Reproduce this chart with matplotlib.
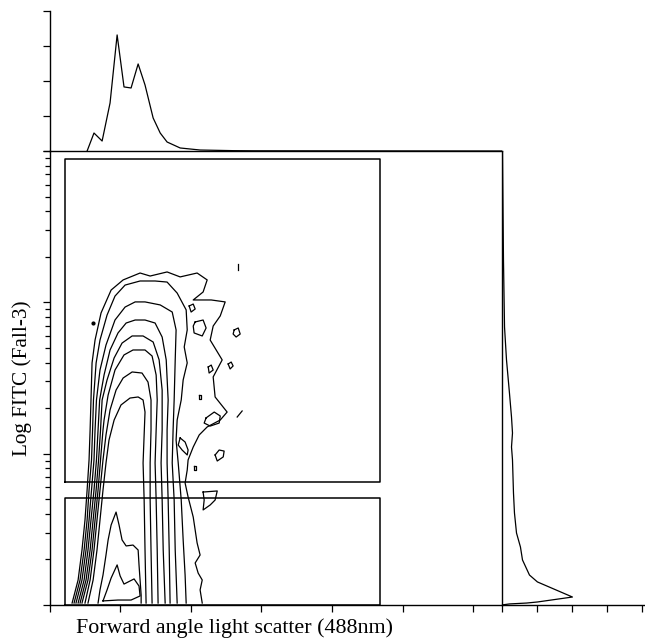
import numpy as np
import matplotlib.pyplot as plt
from matplotlib.ticker import LogLocator, NullFormatter, MultipleLocator

plt.rcParams['font.family'] = ['Liberation Serif', 'DejaVu Serif']

# units: forward scatter channel (0-256), FITC log channel (0-256 = 3 decades)
contour_1 = [(12.8, 1.1), (16.2, 14.1), (18.4, 31.0), (20.1, 47.9), (21.3, 64.8), (22.4, 81.8),
             (23.0, 98.7), (23.5, 115.6), (24.1, 136.5), (25.8, 149.4), (29.2, 164.7), (34.9, 177.6),
             (41.7, 183.3), (51.3, 187.2), (57.0, 185.5), (66.6, 187.8), (74.0, 185.0), (83.6, 187.2),
             (89.3, 183.3), (87.0, 176.5), (81.4, 172.0), (91.6, 172.0), (99.5, 170.9), (96.7, 163.0),
             (92.7, 157.3), (91.0, 149.4), (97.8, 138.2), (92.7, 128.6), (93.8, 117.3), (100.6, 108.8),
             (96.7, 104.3), (89.3, 100.4), (84.8, 95.9), (81.4, 89.1), (78.5, 81.8), (78.0, 76.1),
             (76.8, 68.8), (78.5, 60.9), (81.4, 49.6), (83.6, 35.0), (85.3, 28.2), (82.5, 23.7),
             (84.2, 18.0), (86.5, 14.1), (85.3, 8.5), (86.5, 1.1)]
contour_2 = [(13.9, 1.1), (17.3, 14.1), (19.6, 31.0), (21.3, 47.9), (22.4, 64.8), (23.8, 81.8),
             (24.4, 98.7), (24.9, 115.6), (26.4, 136.5), (28.6, 149.4), (32.6, 163.5), (37.1, 174.2),
             (42.8, 180.4), (51.3, 182.7), (59.8, 182.7), (66.6, 182.1), (72.3, 175.9), (77.4, 166.4),
             (78.0, 155.1), (76.3, 145.5), (78.0, 136.5), (75.7, 126.9), (74.6, 115.6), (72.3, 104.3),
             (71.7, 93.0), (72.9, 80.1), (74.6, 59.2), (75.7, 36.7), (76.8, 16.9), (77.4, 1.1)]
contour_3 = [(15.0, 1.1), (18.4, 14.1), (20.7, 31.0), (22.4, 47.9), (23.8, 64.8), (25.2, 81.8),
             (25.8, 98.7), (26.6, 115.6), (28.6, 132.5), (32.0, 146.6), (37.1, 160.7), (42.8, 168.0),
             (48.5, 170.9), (54.1, 170.9), (62.7, 169.2), (69.5, 165.2), (71.7, 155.1), (71.2, 138.2),
             (70.6, 115.6), (70.0, 98.7), (69.5, 80.1), (70.6, 59.2), (71.2, 31.0), (72.3, 1.1)]
contour_4 = [(16.2, 1.1), (19.6, 14.1), (21.8, 31.0), (23.5, 47.9), (25.2, 64.8), (26.6, 81.8),
             (27.5, 98.7), (28.4, 115.6), (30.9, 129.7), (34.3, 143.8), (38.8, 153.4), (43.4, 159.0),
             (48.5, 160.7), (54.1, 160.7), (59.8, 159.0), (63.8, 151.1), (66.1, 138.2), (67.2, 115.6),
             (66.6, 98.7), (66.6, 80.1), (67.2, 59.2), (67.8, 31.0), (68.3, 1.1)]
contour_5 = [(17.3, 1.1), (20.7, 14.1), (23.0, 31.0), (24.7, 47.9), (26.4, 64.8), (27.8, 81.8),
             (28.9, 98.7), (29.8, 115.6), (32.6, 126.9), (36.6, 139.3), (41.1, 147.7), (46.8, 151.7),
             (53.0, 151.7), (58.7, 148.3), (62.1, 138.2), (63.8, 121.2), (63.8, 98.7), (63.2, 80.1),
             (63.8, 59.2), (64.4, 31.0), (65.5, 1.1)]
contour_6 = [(18.4, 1.1), (21.8, 14.1), (24.1, 31.0), (25.8, 47.9), (27.5, 64.8), (28.9, 81.8),
             (30.3, 98.7), (30.9, 104.3), (33.2, 118.4), (37.1, 132.5), (42.2, 141.0), (47.3, 143.8),
             (54.1, 143.8), (58.1, 140.4), (60.4, 129.7), (61.0, 115.6), (60.4, 98.7), (59.8, 80.1),
             (60.4, 59.2), (61.0, 31.0), (61.5, 1.1)]
contour_7 = [(20.1, 1.1), (23.0, 14.1), (25.2, 31.0), (26.9, 47.9), (28.6, 64.8), (30.3, 81.8),
             (32.0, 95.9), (34.3, 110.0), (37.7, 121.2), (41.7, 128.0), (46.8, 131.4), (52.4, 130.8),
             (55.8, 125.7), (57.5, 115.6), (57.5, 98.7), (57.0, 80.1), (57.0, 59.2), (57.5, 31.0),
             (58.1, 1.1)]
contour_8 = [(21.8, 1.1), (24.7, 14.1), (26.9, 31.0), (28.6, 47.9), (30.3, 64.8), (32.0, 80.1),
             (33.7, 93.0), (36.6, 104.3), (40.5, 112.8), (45.6, 116.7), (50.2, 117.3), (53.0, 115.6),
             (54.1, 108.8), (53.6, 95.9), (53.0, 80.1), (53.6, 59.2), (54.1, 31.0), (54.7, 1.1)]
contour_9 = [(27.5, 1.1), (28.6, 8.5), (30.3, 16.9), (32.0, 28.2), (33.2, 36.7), (34.9, 45.1),
             (37.7, 52.4), (39.4, 45.1), (41.1, 36.7), (43.4, 33.3), (47.3, 33.8), (50.2, 31.0),
             (50.7, 22.6), (51.3, 14.1), (51.9, 5.6), (51.9, 1.1)]
contour_10 = [(30.3, 2.3), (32.6, 8.5), (34.9, 15.2), (38.3, 22.6), (40.0, 16.4), (42.2, 11.8),
              (47.9, 14.7), (50.7, 10.7), (51.3, 5.1), (46.2, 2.8), (38.8, 2.8), (30.3, 2.3)]

# small isolated contours on the right edge of the population
islands = [
    [(79.1, 168.6), (81.4, 169.7), (82.5, 166.9), (80.2, 165.2), (79.1, 168.6)],
    [(82.5, 159.6), (87.0, 160.7), (88.7, 156.2), (86.5, 151.7), (81.9, 153.4), (81.4, 157.3), (82.5, 159.6)],
    [(104.6, 155.1), (106.9, 156.2), (108.0, 152.8), (105.7, 151.1), (104.0, 152.8), (104.6, 155.1)],
    [(89.9, 134.2), (91.6, 135.3), (92.7, 132.5), (90.4, 130.8), (89.9, 134.2)],
    [(101.2, 135.9), (102.9, 137.0), (104.0, 134.8), (102.3, 133.1), (101.2, 135.9)],
    [(84.8, 118.4), (85.9, 118.4), (85.9, 116.2), (84.8, 116.2), (84.8, 118.4)],
    [(106.3, 106.0), (109.1, 109.4)],
    [(88.7, 105.5), (93.3, 108.8), (96.7, 106.6), (96.1, 102.6), (91.0, 100.9), (87.6, 102.6), (88.7, 105.5)],
    [(74.0, 94.2), (76.8, 91.9), (78.5, 87.4), (78.0, 84.6), (75.1, 87.4), (72.9, 90.2), (74.0, 94.2)],
    [(93.8, 84.6), (96.1, 87.4), (98.9, 86.8), (98.4, 83.5), (95.0, 81.2), (93.8, 84.6)],
    [(81.9, 78.4), (83.1, 78.4), (83.1, 76.1), (81.9, 76.1), (81.9, 78.4)],
    [(87.0, 63.7), (95.0, 64.3), (93.8, 59.2), (91.0, 56.4), (87.0, 53.6), (87.6, 59.2), (87.0, 63.7)],
    [(106.9, 192.3), (106.9, 188.9)],
]
dots = [(24.6, 159.0)]

# gates: (fsc_lo, fsc_hi, fitc_lo, fitc_hi) in channels
gate_high = (9.0, 187.4, 69.4, 251.5)
gate_low = (8.8, 187.4, 0.0, 60.5)

# forward scatter histogram (top)
fsc_hist_ch = [21.3, 25.2, 29.8, 34.3, 38.3, 42.2, 46.2, 50.2, 54.1, 58.7, 62.7, 66.6, 74.0, 85.3, 104.0, 115.4, 256]
fsc_hist_count = [0, 25.6, 14.2, 68.4, 165.2, 91.2, 89.7, 123.9, 94.0, 47.0, 25.6, 12.8, 4.3, 1.4, 0.5, 0.3, 0]

# FITC histogram (right)
fitc_hist_ch = [255.4, 194.5, 156.7, 138.2, 119.5, 106.0, 97.0, 89.1, 81.8, 63.2, 51.9, 40.6, 32.7,
                25.4, 16.9, 13.0, 4.5, 1.7, 1.1, 0.6, 0.0]
fitc_hist_count = [1.4, 2.8, 4.3, 7.1, 11.3, 14.2, 15.6, 14.2, 15.6, 17.0, 18.4, 21.3, 26.9,
                   29.8, 39.7, 51.0, 100.7, 51.0, 35.5, 11.3, 0.0]


def to_fitc(ch):
    return 10 ** (np.asarray(ch, dtype=float) * 3 / 256)


W, H = 645, 642
fig = plt.figure(figsize=(W / 100, H / 100), dpi=100)
ax = fig.add_axes([49.5 / W, 37 / H, 452 / W, 454 / H])
ax_top = fig.add_axes([49.5 / W, 491 / H, 452 / W, 140.5 / H])
ax_right = fig.add_axes([501.5 / W, 37 / H, 143 / W, 454 / H])

lw = 0.9
for c in [contour_1, contour_2, contour_3, contour_4, contour_5, contour_6,
          contour_7, contour_8, contour_9, contour_10] + islands:
    xs, ys = zip(*c)
    ax.plot(xs, to_fitc(ys), color='black', lw=lw)
for x, y in dots:
    ax.plot([x], to_fitc([y]), 'o', color='black', ms=2)

for x0, x1, y0, y1 in [gate_high, gate_low]:
    ax.plot([x0, x1, x1, x0, x0], to_fitc([y0, y0, y1, y1, y0]), color='black', lw=1.1)

ax.set_xlim(0, 256)
ax.set_yscale('log')
ax.set_ylim(1, 1000)
ax.xaxis.set_major_locator(MultipleLocator(40))
ax.yaxis.set_major_locator(LogLocator(base=10))
ax.yaxis.set_minor_locator(LogLocator(base=10, subs=np.arange(2, 10)))
ax.xaxis.set_major_formatter(NullFormatter())
ax.yaxis.set_major_formatter(NullFormatter())
ax.yaxis.set_minor_formatter(NullFormatter())
ax.tick_params(which='major', direction='out', length=5, width=0.9)
ax.tick_params(which='minor', direction='out', length=3.5, width=0.9)
for s in ax.spines.values():
    s.set_linewidth(1.0)

ax_top.plot(fsc_hist_ch, fsc_hist_count, color='black', lw=lw)
ax_top.set_xlim(0, 256)
ax_top.set_ylim(0, 200)
ax_top.yaxis.set_major_locator(MultipleLocator(50))
ax_top.yaxis.set_major_formatter(NullFormatter())
ax_top.set_xticks([])
ax_top.tick_params(direction='out', length=5, width=0.9)
for k in ['top', 'right', 'bottom']:
    ax_top.spines[k].set_visible(False)
ax_top.spines['left'].set_linewidth(1.0)
ax_top.patch.set_alpha(0)

ax_right.plot(fitc_hist_count, to_fitc(fitc_hist_ch), color='black', lw=lw)
ax_right.set_yscale('log')
ax_right.set_ylim(1, 1000)
ax_right.set_xlim(0, 203)
ax_right.xaxis.set_major_locator(MultipleLocator(50))
ax_right.xaxis.set_major_formatter(NullFormatter())
ax_right.set_yticks([])
ax_right.yaxis.set_minor_locator(plt.NullLocator())
ax_right.tick_params(direction='out', length=5, width=0.9)
for k in ['top', 'right', 'left']:
    ax_right.spines[k].set_visible(False)
ax_right.spines['bottom'].set_linewidth(1.0)
ax_right.patch.set_alpha(0)

fig.text(235 / W, 1 - 628 / H, 'Forward angle light scatter (488nm)', ha='center', va='center', fontsize=15.8)
fig.text(22 / W, 1 - 378 / H, 'Log FITC (Fall-3)', ha='center', va='center', rotation=90, fontsize=15.3)

fig.savefig('out.png', dpi=100)
